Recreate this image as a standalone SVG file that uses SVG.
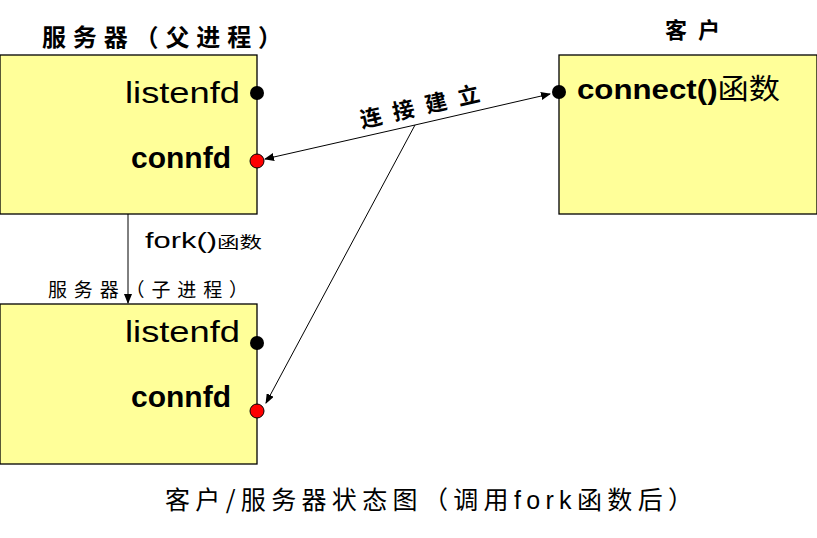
<svg xmlns="http://www.w3.org/2000/svg" width="817" height="538" viewBox="0 0 817 538">
<style>
.box{fill:#ffff99;stroke:#000;stroke-width:1.3}
.lbl{font-family:"Liberation Sans","Noto Sans CJK SC",sans-serif;fill:#000}
.cjk{font-family:"Noto Sans CJK SC",sans-serif;fill:#000}
.ln{stroke:#000;stroke-width:1;fill:none}
</style>
<defs>
<marker id="ah" markerWidth="10" markerHeight="8" refX="9" refY="4" orient="auto" markerUnits="userSpaceOnUse">
<path d="M0,0 L10,4 L0,8 Z" fill="#000"/>
</marker>
</defs>
<rect width="817" height="538" fill="#fff"/>
<g id="server-parent">
<rect class="box" x="0" y="55" width="257" height="159"/>
<text class="cjk" x="42" y="46" font-size="24" font-weight="bold" textLength="240" lengthAdjust="spacing">服务器（父进程）</text>
<text class="lbl" x="125" y="103" font-size="29" textLength="115" lengthAdjust="spacingAndGlyphs">listenfd</text>
<text class="lbl" x="131" y="168" font-size="29" font-weight="bold" textLength="100" lengthAdjust="spacingAndGlyphs">connfd</text>
<circle cx="257" cy="93" r="7" fill="#000"/>
<circle cx="257" cy="161" r="7" fill="#f00" stroke="#000" stroke-width="1"/>
</g>
<g id="server-child">
<rect class="box" x="0" y="304" width="257" height="160"/>
<text class="cjk" x="48" y="297" font-size="19" textLength="200" lengthAdjust="spacing">服务器（子进程）</text>
<text class="lbl" x="125" y="342" font-size="29" textLength="115" lengthAdjust="spacingAndGlyphs">listenfd</text>
<text class="lbl" x="131" y="407" font-size="29" font-weight="bold" textLength="100" lengthAdjust="spacingAndGlyphs">connfd</text>
<circle cx="257" cy="343" r="7" fill="#000"/>
<circle cx="257" cy="411" r="7" fill="#f00" stroke="#000" stroke-width="1"/>
</g>
<g id="client">
<rect class="box" x="559" y="55" width="258" height="159"/>
<text class="cjk" x="665" y="38" font-size="22" font-weight="bold" textLength="55" lengthAdjust="spacing">客户</text>
<text class="lbl" x="577" y="99" font-size="28" font-weight="bold" textLength="203" lengthAdjust="spacingAndGlyphs">connect()<tspan class="cjk" font-weight="normal">函数</tspan></text>
<circle cx="559" cy="92" r="7" fill="#000"/>
</g>
<g id="connectors">
<line class="ln" x1="128" y1="214" x2="128" y2="303" marker-end="url(#ah)"/>
<line class="ln" x1="415" y1="125" x2="550" y2="94" marker-end="url(#ah)"/>
<line class="ln" x1="415" y1="125" x2="265" y2="159" marker-end="url(#ah)"/>
<line class="ln" x1="415" y1="125" x2="266" y2="403" marker-end="url(#ah)"/>
<text class="lbl" x="145" y="248" font-size="22" textLength="117" lengthAdjust="spacingAndGlyphs">fork()<tspan class="cjk" font-size="16">函数</tspan></text>
<text class="cjk" x="0" y="0" font-size="22" font-weight="bold" textLength="122" lengthAdjust="spacing" transform="translate(362,128) rotate(-13)">连接建立</text>
</g>
<text class="cjk" x="165" y="509" font-size="25" textLength="528" lengthAdjust="spacing">客户/服务器状态图（调用<tspan class="lbl">fork</tspan>函数后）</text>
</svg>
